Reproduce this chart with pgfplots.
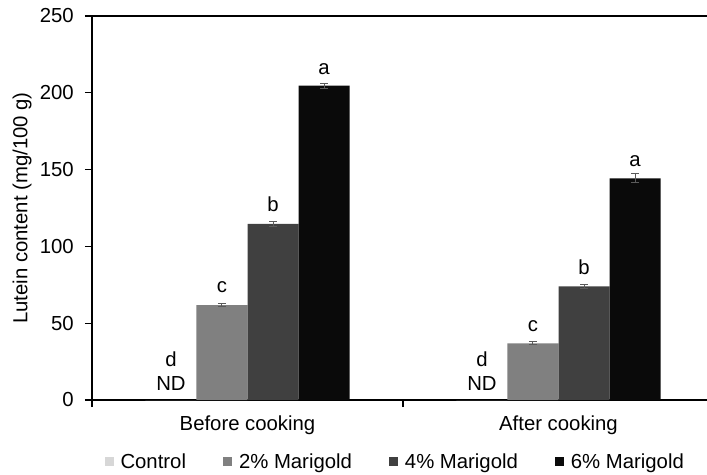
\documentclass[border=0pt]{standalone}
\usepackage{fontspec}
\setmainfont{Liberation Sans}
\usepackage{pgfplots}
\pgfplotsset{compat=1.18}
\definecolor{cC}{RGB}{215,215,215}
\definecolor{c2}{RGB}{128,128,128}
\definecolor{c4}{RGB}{64,64,64}
\definecolor{c6}{RGB}{10,10,10}
\definecolor{errc}{RGB}{90,90,90}
\pgfplotsset{
  sqleg/.style={legend image code/.code={\fill (0bp,-4.5bp) rectangle (9bp,4.5bp);}},
  eb/.style={error bars/.cd, y dir=both, y explicit,
     error bar style={errc, line width=1bp},
     error mark options={errc, rotate=90, mark size=4bp, line width=1bp}},
}
\begin{document}
\begin{tikzpicture}[font=\fontsize{20.4}{24}\selectfont]
\begin{axis}[
  name=ax, at={(0,0)}, anchor=south west,
  scale only axis, width=615bp, height=384bp,
  xmin=-0.5, xmax=1.4775, ymin=0, ymax=250,
  clip=false,
  axis x line*=bottom, axis y line*=left,
  axis line style={line width=1.2bp, -},
  ytick={0,50,...,250},
  xtick={0,1}, xticklabels={Before cooking, After cooking},
  minor xtick={-0.5,0.5,1.5},
  major x tick style={draw=none},
  minor x tick style={line width=1.2bp, black},
  major y tick style={line width=1.2bp, black},
  tick align=outside, major tick length=7bp, minor tick length=7bp,
  /pgf/number format/assume math mode=true,
  xticklabel style={inner sep=0pt, anchor=north, yshift=-9bp},
  yticklabel style={inner sep=0pt, anchor=east, xshift=-11bp},
  ylabel={Lutein content (mg/100 g)},
  ylabel style={at={(axis description cs:-0.1138,0.5)}, anchor=center, inner sep=0pt},
  legend columns=4,
  legend cell align=left,
  legend style={at={(0.493,-0.161)}, anchor=center, draw=none, fill=none,
     font=\fontsize{20.4}{24}\selectfont,
     /tikz/every odd column/.append style={column sep=5bp},
     /tikz/every even column/.append style={column sep=35bp}},
]
\addplot[ybar, bar width=0.164, bar shift=0pt, fill=cC, draw=none, sqleg]
  coordinates {(-0.246,0) (0.754,0)};
\addlegendentry{Control}
\addplot[ybar, bar width=0.164, bar shift=0pt, fill=c2, draw=none, sqleg, eb]
  coordinates {(-0.082,61.8) +- (0,1.0) (0.918,36.9) +- (0,1.0)};
\addlegendentry{2\% Marigold}
\addplot[ybar, bar width=0.164, bar shift=0pt, fill=c4, draw=none, sqleg, eb]
  coordinates {(0.082,114.6) +- (0,1.5) (1.082,74.0) +- (0,1.3)};
\addlegendentry{4\% Marigold}
\addplot[ybar, bar width=0.164, bar shift=0pt, fill=c6, draw=none, sqleg, eb]
  coordinates {(0.246,204.6) +- (0,1.5) (1.246,144.3) +- (0,3.0)};
\addlegendentry{6\% Marigold}
\draw[line width=1.8bp] (rel axis cs:0,1) -- (rel axis cs:1,1);
\node[anchor=base] at (axis cs:-0.246,21.5) {d};
\node[anchor=base] at (axis cs:-0.246,6.5) {ND};
\node[anchor=base] at (axis cs:-0.082,69.7) {c};
\node[anchor=base] at (axis cs:0.082,122.4) {b};
\node[anchor=base] at (axis cs:0.246,212.2) {a};
\node[anchor=base] at (axis cs:0.754,21.5) {d};
\node[anchor=base] at (axis cs:0.754,6.5) {ND};
\node[anchor=base] at (axis cs:0.918,44.9) {c};
\node[anchor=base] at (axis cs:1.082,82.0) {b};
\node[anchor=base] at (axis cs:1.246,152.3) {a};
\end{axis}
\pgfresetboundingbox
\useasboundingbox (-92bp,-75bp) rectangle (615bp,400bp);
\end{tikzpicture}
\end{document}
